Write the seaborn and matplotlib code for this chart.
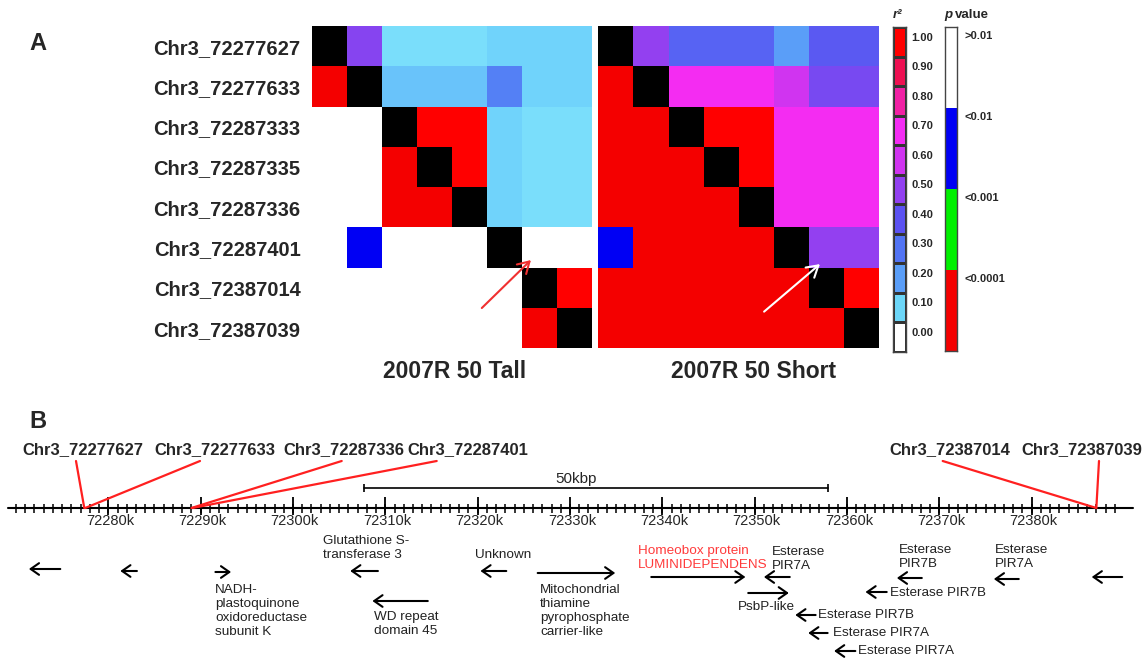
import numpy as np
import matplotlib
matplotlib.use('Agg')
import matplotlib.pyplot as plt
from matplotlib.colors import ListedColormap, LinearSegmentedColormap
import seaborn as sns

sns.set_style('white')
plt.rcParams['font.family'] = ['Liberation Sans', 'DejaVu Sans']

W, H = 1148, 661

# ---- Panel A data ----
snps = ['Chr3_72277627', 'Chr3_72277633', 'Chr3_72287333', 'Chr3_72287335',
        'Chr3_72287336', 'Chr3_72287401', 'Chr3_72387014', 'Chr3_72387039']

# r2, upper triangle (cells right of the diagonal, row by row)
r2_tall = [
    [0.48, 0.08, 0.08, 0.08, 0.10, 0.10, 0.10],
    [0.13, 0.13, 0.13, 0.27, 0.10, 0.10],
    [1.00, 1.00, 0.10, 0.08, 0.08],
    [1.00, 0.10, 0.08, 0.08],
    [0.10, 0.08, 0.08],
    [0.00, 0.00],
    [1.00],
]
r2_short = [
    [0.50, 0.35, 0.35, 0.35, 0.20, 0.38, 0.38],
    [0.70, 0.70, 0.70, 0.60, 0.45, 0.45],
    [1.00, 1.00, 0.70, 0.70, 0.70],
    [1.00, 0.70, 0.70, 0.70],
    [0.70, 0.70, 0.70],
    [0.50, 0.50],
    [1.00],
]
# p value class, lower triangle (0: >0.01, 1: <0.01, 2: <0.001, 3: <0.0001)
p_tall = [[3], [0, 0], [0, 0, 3], [0, 0, 3, 3], [0, 1, 0, 0, 0],
          [0, 0, 0, 0, 0, 0], [0, 0, 0, 0, 0, 0, 3]]
p_short = [[3], [3, 3], [3, 3, 3], [3, 3, 3, 3], [1, 3, 3, 3, 3],
           [3, 3, 3, 3, 3, 3], [3, 3, 3, 3, 3, 3, 3]]

r2_levels = [0.0, 0.1, 0.2, 0.3, 0.4, 0.5, 0.6, 0.7, 0.8, 0.9, 1.0]
r2_level_labels = ['0.00', '0.10', '0.20', '0.30', '0.40', '0.50',
                   '0.60', '0.70', '0.80', '0.90', '1.00']
r2_colors = ['#ffffff', '#6cd6f8', '#5a9ef8', '#5274f4', '#5c52f2', '#9240f0',
             '#d034f0', '#f42cf4', '#f020a4', '#ee1052', '#ff0000']
p_labels = ['>0.01', '<0.01', '<0.001', '<0.0001']
p_colors = ['#ffffff', '#0000f4', '#00f000', '#f40000']

# ---- Panel B data ----
tick_major_kb = [72280, 72290, 72300, 72310, 72320, 72330, 72340, 72350,
                 72360, 72370, 72380]
snp_b_labels = ['Chr3_72277627', 'Chr3_72277633', 'Chr3_72287336',
                'Chr3_72287401', 'Chr3_72387014', 'Chr3_72387039']
snp_b_axis_kb = [72277.4, 72277.5, 72289.0, 72289.1, 72387.0, 72387.0]

gene_names = ['', '', 'NADH-\nplastoquinone\noxidoreductase\nsubunit K',
              'Glutathione S-\ntransferase 3', 'WD repeat\ndomain 45', 'Unknown',
              'Mitochondrial\nthiamine\npyrophosphate\ncarrier-like',
              'Homeobox protein\nLUMINIDEPENDENS', 'Esterase\nPIR7A', 'PsbP-like',
              'Esterase PIR7B', 'Esterase PIR7A', 'Esterase PIR7A', 'Esterase PIR7B',
              'Esterase\nPIR7B', 'Esterase\nPIR7A', '']
gene_start = [72271.4, 72281.3, 72291.6, 72306.2, 72308.6, 72320.3, 72326.5,
              72338.8, 72351.0, 72349.3, 72354.4, 72355.8, 72358.6, 72362.0,
              72365.4, 72375.9, 72386.5]
gene_end = [72274.8, 72283.1, 72293.3, 72309.2, 72314.6, 72323.1, 72334.9,
            72349.0, 72353.8, 72353.7, 72356.6, 72357.9, 72360.9, 72364.3,
            72368.1, 72378.6, 72389.8]
gene_strand = [-1, -1, 1, -1, -1, -1, 1, 1, -1, 1, -1, -1, -1, -1, -1, -1, -1]

# layout of panel B (pixel rows from top / label anchors)
gene_y = [569, 571, 572, 571, 601, 571, 573, 577, 577, 593, 615, 633, 651,
          592, 578, 579, 577]
gene_label_pos = [None, None, (215, 611, 'left'), (323, 548, 'left'),
                  (374, 624, 'left'), (475, 555, 'left'), (540, 611, 'left'),
                  (638, 558, 'left'), (772, 559, 'left'), (766, 607, 'center'),
                  (818, 615, 'left'), (833, 633, 'left'), (858, 651, 'left'),
                  (890, 593, 'left'), (899, 557, 'left'), (995, 557, 'left'), None]


def px_rect(l, t, r, b):
    return [l / W, 1 - b / H, (r - l) / W, (b - t) / H]


def build(r2_rows, p_rows):
    n = len(snps)
    r2 = np.full((n, n), np.nan)
    pc = np.full((n, n), np.nan)
    for i, row in enumerate(r2_rows):
        r2[i, i + 1:] = row
    for i, row in enumerate(p_rows):
        pc[i + 1, :i + 1] = row
    return r2, pc


fig = plt.figure(figsize=(W / 100, H / 100), dpi=100)

# continuous scale for the matrix cells (extra light-cyan stop near zero)
cmap_stops = [(0.0, '#ffffff'), (0.05, '#88eefc'), (0.1, '#6fd2fb')] + \
    list(zip(r2_levels[2:], r2_colors[2:]))
r2_cmap = LinearSegmentedColormap.from_list('r2', cmap_stops)
p_cmap = ListedColormap(p_colors)
diag = np.where(np.eye(len(snps)) == 1, 1.0, np.nan)

ax_tall = fig.add_axes(px_rect(311.7, 26, 592.3, 348.3))
ax_short = fig.add_axes(px_rect(598.3, 26, 879.3, 348.3))
for ax, r2_rows, p_rows in [(ax_tall, r2_tall, p_tall), (ax_short, r2_short, p_short)]:
    r2, pc = build(r2_rows, p_rows)
    sns.heatmap(r2, cmap=r2_cmap, vmin=0, vmax=1, cbar=False, ax=ax,
                xticklabels=False, yticklabels=False)
    sns.heatmap(pc, cmap=p_cmap, vmin=-0.5, vmax=3.5, cbar=False, ax=ax,
                xticklabels=False, yticklabels=False)
    sns.heatmap(diag, cmap=ListedColormap(['black']), cbar=False, ax=ax,
                xticklabels=False, yticklabels=False)
    ax.set_xticks([])
    ax.set_yticks([])

ax_tall.set_yticks(np.arange(len(snps)) + 0.5)
ax_tall.set_yticklabels(snps, rotation=0, fontsize=14.5, fontweight='bold')
ax_tall.tick_params(axis='y', length=0, pad=8)

# arrows pointing at the Chr3_72287401 row
ax_tall.annotate('', xy=(6.25, 5.81), xytext=(4.85, 7.0),
                 arrowprops=dict(arrowstyle='->,head_length=0.5,head_width=0.3',
                                 color='#f03030', lw=1.5,
                                 mutation_scale=16, shrinkA=0, shrinkB=0))
ax_short.annotate('', xy=(6.31, 5.91), xytext=(4.72, 7.09),
                  arrowprops=dict(arrowstyle='->,head_length=0.5,head_width=0.3',
                                  color='white', lw=1.5,
                                  mutation_scale=16, shrinkA=0, shrinkB=0))

fig.text(455 / W, 1 - 371 / H, '2007R 50 Tall', ha='center', va='center',
         fontsize=16.5, fontweight='bold')
fig.text(754 / W, 1 - 371 / H, '2007R 50 Short', ha='center', va='center',
         fontsize=16.5, fontweight='bold')
fig.text(38 / W, 1 - 43 / H, 'A', ha='center', va='center', fontsize=17, fontweight='bold')

# r2 legend bar
ax_cb = fig.add_axes(px_rect(893.3, 27.3, 906, 351.7))
sns.heatmap(np.array(r2_levels[::-1]).reshape(-1, 1), cmap=ListedColormap(r2_colors),
            vmin=-0.05, vmax=1.05, cbar=False, ax=ax_cb, linewidths=0.8,
            linecolor='#333333', xticklabels=False, yticklabels=False)
ax_cb.yaxis.tick_right()
ax_cb.set_yticks(np.arange(len(r2_levels)) + 0.32)
ax_cb.set_yticklabels(r2_level_labels[::-1], rotation=0, fontsize=8, fontweight='bold')
ax_cb.tick_params(axis='y', length=0, pad=4)
ax_cb.set_xticks([])

# p value legend bar
ax_cp = fig.add_axes(px_rect(945, 27.3, 957.3, 350.7))
sns.heatmap(np.arange(len(p_labels)).reshape(-1, 1), cmap=p_cmap, vmin=-0.5,
            vmax=3.5, cbar=False, ax=ax_cp, xticklabels=False, yticklabels=False)
ax_cp.yaxis.tick_right()
ax_cp.set_yticks(np.arange(len(p_labels)) + 0.1)
ax_cp.set_yticklabels(p_labels, rotation=0, fontsize=8, fontweight='bold')
ax_cp.tick_params(axis='y', length=0, pad=5)
ax_cp.set_xticks([])

for ax in (ax_cb, ax_cp):
    for sp in ax.spines.values():
        sp.set_visible(True)
        sp.set_color('#444444')
        sp.set_linewidth(1.0)

fig.text(893 / W, 1 - 15 / H, 'r²', ha='left', va='center', fontsize=9.5,
         fontweight='bold', style='italic')
fig.text(944 / W, 1 - 15 / H, 'p', ha='left', va='center', fontsize=9.5,
         fontweight='bold', style='italic')
fig.text(955 / W, 1 - 15 / H, 'value', ha='left', va='center', fontsize=9.5,
         fontweight='bold')

# ---- Panel B ----
def kb_of(px):
    return 72280 + (px - 108.3) / 9.234


ax_b = fig.add_axes([0, 0, 1, 261 / H])
ax_b.set_xlim(kb_of(0), kb_of(W))
ax_b.set_ylim(661, 400)
ax_b.axis('off')

axis_y = 508
ax_b.plot([kb_of(8), kb_of(1133)], [axis_y, axis_y], color='black', lw=1.5)
minor_kb = np.arange(72270, 72390, 1)
ax_b.vlines(minor_kb, axis_y - 4.5, axis_y + 4.5, color='black', lw=1.1)
ax_b.vlines(tick_major_kb, axis_y - 11, axis_y + 7, color='black', lw=1.3)
for kb in tick_major_kb:
    ax_b.text(kb + 0.2, 521, f'{kb}k', ha='center', va='center', fontsize=10.5)

# 50 kbp scale bar
bar_l, bar_r = kb_of(364.3), kb_of(827.7)
ax_b.plot([bar_l, bar_r], [488, 488], color='black', lw=1.2)
ax_b.vlines([bar_l, bar_r], 484, 492, color='black', lw=1.2)
ax_b.text(kb_of(576), 479, '50kbp', ha='center', va='center', fontsize=11)

# SNP labels and red connector lines
label_x = [82.5, 214.7, 344, 468, 950, 1081.7]
line_top_x = [76, 200, 341.7, 436.7, 942.7, 1099]
for name, kb, lx, tx in zip(snp_b_labels, snp_b_axis_kb, label_x, line_top_x):
    ax_b.text(kb_of(lx), 450, name, ha='center', va='center', fontsize=12,
              fontweight='bold')
    ax_b.plot([kb_of(tx), kb], [461, axis_y], color='#ff2020', lw=1.6)

ax_b.text(kb_of(38), 421, 'B', ha='center', va='center', fontsize=17, fontweight='bold')

# genes
for name, s, e, strand, y, lab in zip(gene_names, gene_start, gene_end, gene_strand,
                                      gene_y, gene_label_pos):
    head, tail = (e, s) if strand > 0 else (s, e)
    ax_b.annotate('', xy=(head, y), xytext=(tail, y),
                  arrowprops=dict(arrowstyle='->,head_length=0.4,head_width=0.28',
                                  color='black', lw=1.5,
                                  mutation_scale=15, shrinkA=0, shrinkB=0))
    if lab is not None:
        color = '#ff3b3b' if 'Homeobox' in name else '#222222'
        ax_b.text(kb_of(lab[0]), lab[1], name, ha=lab[2], va='center',
                  fontsize=9.7, color=color, linespacing=1.2)

fig.savefig('out.png', dpi=100)
